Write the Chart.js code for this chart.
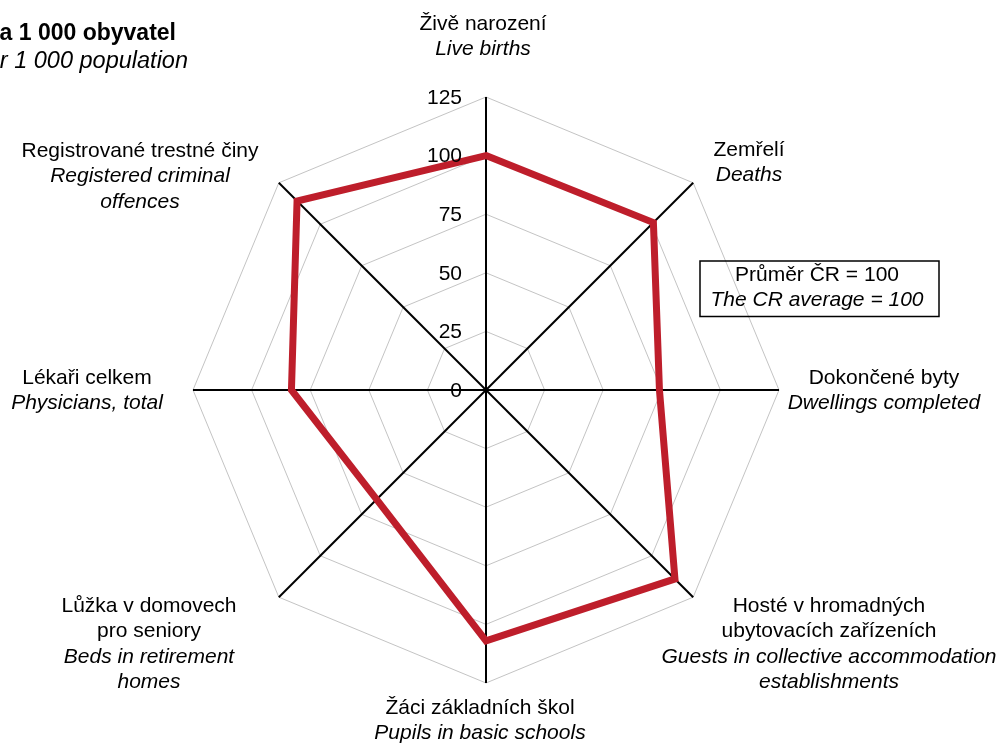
<!DOCTYPE html>
<html>
<head>
<meta charset="utf-8">
<script src="https://cdn.jsdelivr.net/npm/chart.js@4.4.1/dist/chart.umd.min.js"></script>
<style>
  html, body { margin: 0; padding: 0; background: #fff; }
  #wrap { width: 1006px; height: 746px; }
</style>
</head>
<body>
<div id="wrap"><canvas id="radarChart" width="1006" height="746"></canvas></div>
<script>
// Data (CR average = 100)
var categoriesCz = [
    ['Živě narození'],
    ['Zemřelí'],
    ['Dokončené byty'],
    ['Hosté v hromadných', 'ubytovacích zařízeních'],
    ['Žáci základních škol'],
    ['Lůžka v domovech', 'pro seniory'],
    ['Lékaři celkem'],
    ['Registrované trestné činy']
];
var categoriesEn = [
    ['Live births'],
    ['Deaths'],
    ['Dwellings completed'],
    ['Guests in collective accommodation', 'establishments'],
    ['Pupils in basic schools'],
    ['Beds in retirement', 'homes'],
    ['Physicians, total'],
    ['Registered criminal', 'offences']
];
var regionValues = [100, 101, 74, 114, 107, 66, 83, 114];
var tickValues = [0, 25, 50, 75, 100, 125];

// label anchors (centre x, middle y of first line)
var labelAnchors = [
    [483, 24], [749, 150], [884, 378], [829, 606],
    [480, 708], [149, 606], [87, 378], [140, 151]
];

var FONT = '"Liberation Sans", Arial, Helvetica, sans-serif';
var LINE_H = 25.5;

var textPlugin = {
    id: 'texts',
    afterDraw: function (chart) {
        var c = chart.ctx;
        var scale = chart.scales.r;
        c.save();
        c.fillStyle = '#000';
        c.textBaseline = 'middle';

        // title, cut off at the left edge
        c.textAlign = 'right';
        c.font = 'bold 23px ' + FONT;
        c.fillText('Na 1 000 obyvatel', 176, 34);
        c.font = 'italic 23.5px ' + FONT;
        c.fillText('Per 1 000 population', 188, 61);

        // tick labels
        c.textAlign = 'right';
        c.font = '21px ' + FONT;
        tickValues.forEach(function (v) {
            var y = scale.yCenter - scale.getDistanceFromCenterForValue(v);
            c.fillText(String(v), scale.xCenter - 24, y + 1);
        });

        // category labels
        c.textAlign = 'center';
        labelAnchors.forEach(function (a, i) {
            var y = a[1];
            c.font = '21px ' + FONT;
            categoriesCz[i].forEach(function (t) {
                c.fillText(t, a[0], y);
                y += LINE_H;
            });
            c.font = 'italic 21px ' + FONT;
            categoriesEn[i].forEach(function (t) {
                c.fillText(t, a[0], y);
                y += LINE_H;
            });
        });

        // average box
        c.lineWidth = 1.5;
        c.strokeStyle = '#000';
        c.strokeRect(700, 261, 239, 55.5);
        c.font = '21px ' + FONT;
        c.fillText('Průměr ČR = 100', 817, 275);
        c.font = 'italic 21px ' + FONT;
        c.fillText('The CR average = 100', 817, 300);
        c.restore();
    }
};

var bgPlugin = {
    id: 'bg',
    beforeDraw: function (chart) {
        var c = chart.ctx;
        c.save();
        c.fillStyle = '#fff';
        c.fillRect(0, 0, chart.width, chart.height);
        c.restore();
    }
};

var ctx = document.getElementById('radarChart').getContext('2d');
var radarChart = new Chart(ctx, {
    type: 'radar',
    data: {
        labels: categoriesEn.map(function (l) { return l.join(' '); }),
        datasets: [{
            label: 'Region',
            data: regionValues,
            borderColor: '#be1e2b',
            borderWidth: 7,
            borderJoinStyle: 'miter',
            fill: false,
            pointRadius: 0,
            pointHoverRadius: 0,
            tension: 0
        }]
    },
    options: {
        responsive: false,
        animation: false,
        devicePixelRatio: 1,
        layout: {
            padding: { left: 186, right: 220, top: 97, bottom: 63 }
        },
        plugins: {
            legend: { display: false },
            tooltip: { enabled: false }
        },
        scales: {
            r: {
                min: 0,
                max: 125,
                ticks: { display: false, stepSize: 25 },
                pointLabels: { display: false },
                grid: { color: '#c4c4c4', lineWidth: 1 },
                angleLines: { color: '#000', lineWidth: 2 }
            }
        }
    },
    plugins: [bgPlugin, textPlugin]
});
</script>
</body>
</html>
